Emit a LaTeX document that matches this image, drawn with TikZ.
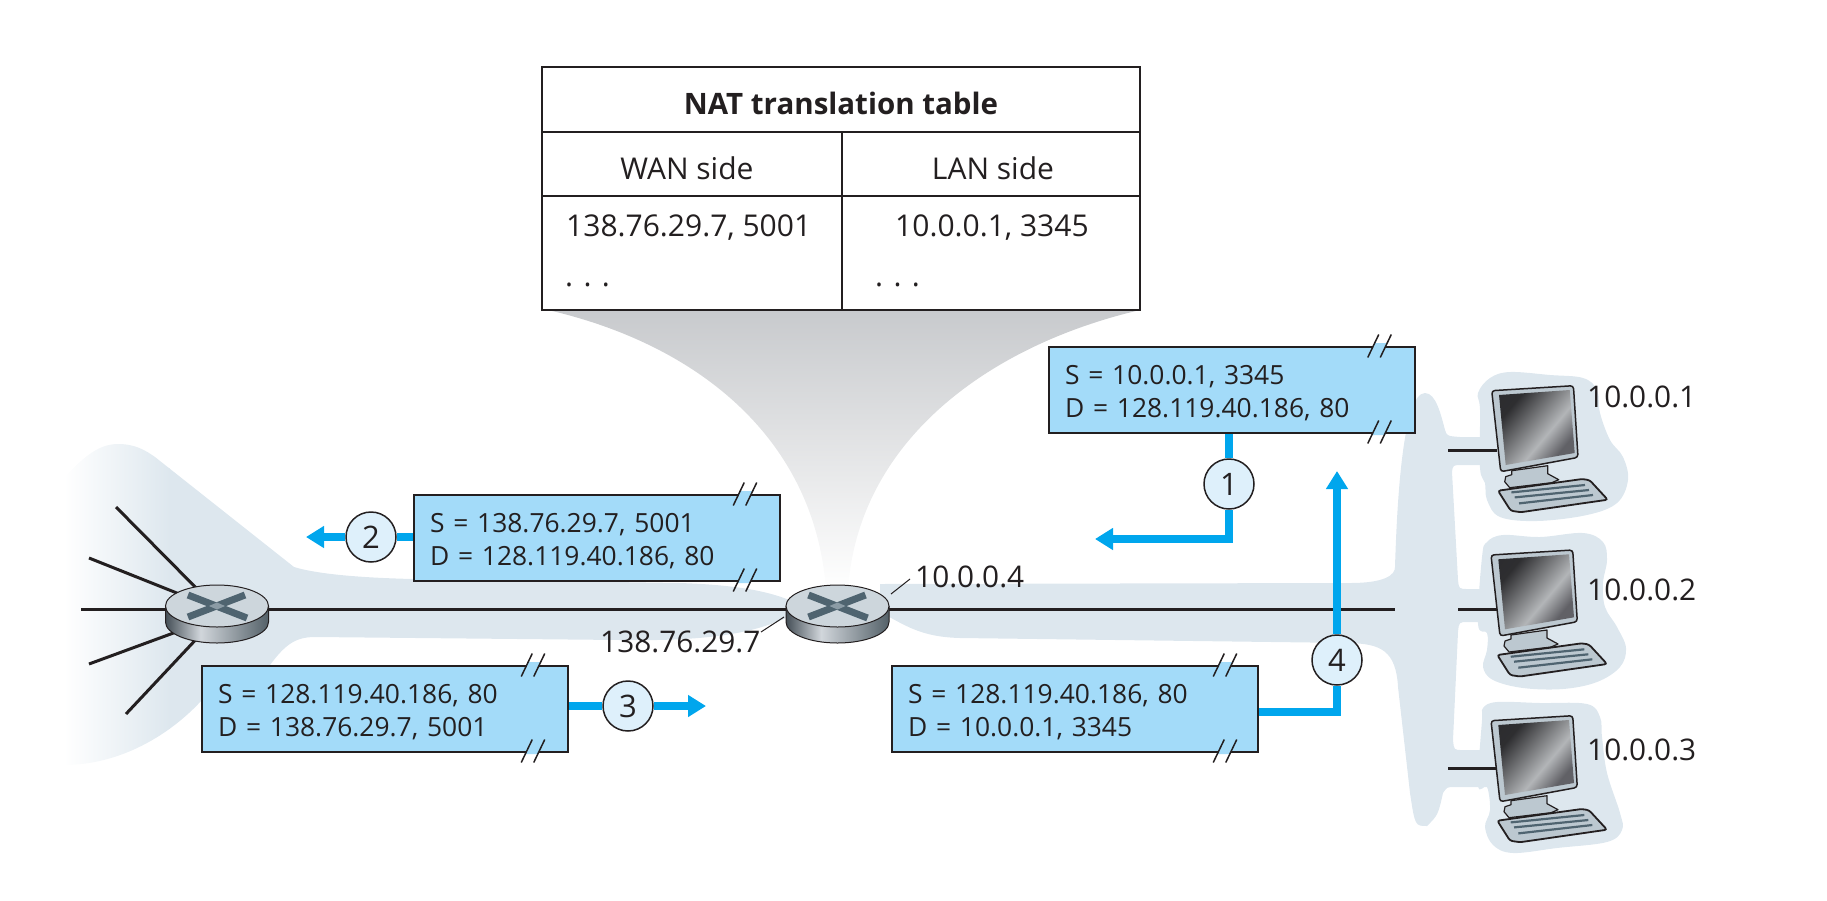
\documentclass[tikz,border=0pt]{standalone}
\usepackage{fontspec}
\setmainfont{Open Sans}
\usetikzlibrary{arrows.meta,positioning}
\definecolor{inkblack}{HTML}{231F20}
\definecolor{flowblue}{HTML}{00A6ED}
\definecolor{boxblue}{HTML}{A3DBF9}
\definecolor{discblue}{HTML}{DEF0FB}
\definecolor{bandblue}{HTML}{DDE7EE}
\definecolor{funnelgray}{HTML}{C8CACD}
\definecolor{caseblue}{HTML}{BCC8D0}
\definecolor{keyslate}{HTML}{4F6470}
\pgfdeclarehorizontalshading{routerside}{100bp}{rgb(0bp)=(.27,.31,.34);rgb(25bp)=(.27,.31,.34);rgb(42bp)=(.82,.84,.86);rgb(75bp)=(.33,.38,.41);rgb(100bp)=(.33,.38,.41)}
\pgfdeclarehorizontalshading{screenshade}{100bp}{rgb(0bp)=(.16,.16,.17);rgb(28bp)=(.18,.18,.19);rgb(58bp)=(.70,.71,.72);rgb(72bp)=(.38,.38,.40);rgb(100bp)=(.38,.38,.40)}
\newcommand{\Sbreak}[2]{\begin{scope}[shift={(#1,#2)}]
\fill[boxblue] (-7.5,3) -- (5,3) -- (7.5,-3) -- (-5,-3) -- cycle;
\draw[inkblack,line width=1.5pt] (-11.75,11.5) -- (-0.75,-11.5) (0.75,11.5) -- (11.75,-11.5);
\end{scope}}
\newcommand{\Spush}{\rule{0pt}{26pt}}
\tikzset{
  wire/.style={-,draw=inkblack,line width=3pt},
  leader/.style={-,draw=inkblack,line width=1pt},
  flow/.style={draw=flowblue,line width=7.5pt},
  flowtip/.style={-{Triangle[length=18pt,width=21pt]},draw=flowblue,line width=7.5pt},
  cell/.style={inner sep=0pt,text=inkblack,font=\fontsize{30}{34}\selectfont},
  packet/.style={rectangle,draw=inkblack,fill=boxblue,line width=2pt,anchor=north west,align=left,inner xsep=16pt,inner ysep=0pt,
    minimum height=86pt,text width=334pt,text=inkblack,font=\fontsize{26.4}{33}\selectfont},
  step disc/.style={circle,draw=inkblack,fill=discblue,line width=1.5pt,minimum size=50pt,inner sep=0pt,text=inkblack,font=\fontsize{31}{32}\selectfont},
  addr/.style={inner sep=0pt,text=inkblack,font=\fontsize{29.8}{34}\selectfont},
  router/.pic={
    \shade[shading=routerside] (-51.5,-3) -- (-51.5,13) .. controls (-51.5,24.6) and (-28.4,34) .. (0,34) .. controls (28.4,34) and (51.5,24.6) .. (51.5,13) -- (51.5,-3) -- cycle;
    \draw[inkblack,line width=1pt] (-51.5,-3) -- (-51.5,13) .. controls (-51.5,24.6) and (-28.4,34) .. (0,34) .. controls (28.4,34) and (51.5,24.6) .. (51.5,13) -- (51.5,-3);
    \draw[inkblack,line width=1pt,fill=caseblue!75!white] (0,-3) ellipse [x radius=51.5pt,y radius=21pt];
    \draw[keyslate,line width=7pt] (-29,-14) -- (30,9) (-29,8) -- (28,-14);
    \fill[caseblue!55!keyslate] (-8,-3) -- (0,-6.5) -- (8,-3) -- (0,0.5) -- cycle;
  },
  computer/.pic={
    \draw[inkblack,line width=1.2pt,fill=caseblue,line join=round] (20,80) -- (56,75) -- (56,83) -- (67,89) -- (60,92) -- (18,97) -- (13,91) -- (14,86) -- (20,84) -- cycle;
    \draw[inkblack,line width=1.8pt,fill=caseblue,rounded corners=2.5pt] (6.3,100) -- (90.7,88.3) -- (98,89.5) -- (116,109) -- (29,121.5) -- (19,120) -- cycle;
    \draw[keyslate,line width=2.2pt] (19.7,101.7) -- (93.3,94.3) (23,106.7) -- (97.3,99.3) (27.3,112.7) -- (101.3,104.3);
    \draw[inkblack,line width=1.5pt,fill=caseblue,rounded corners=3pt] (0,0) -- (81.7,-5) -- (86.3,66.7) -- (9,81) -- cycle;
    \shade[shading=screenshade,shading angle=-40] (7.3,4.3) -- (78,-0.7) -- (83,62.3) -- (14,74.3) -- cycle;
  },
}
\begin{document}
\begin{tikzpicture}[x=1pt,y=-1pt]
\useasboundingbox (0,0) rectangle (1827,900);
% funnel under the table
\shade[top color=funnelgray,bottom color=white] (548,310) .. controls (700,345) and (815,440) .. (826,590) -- (848,590) .. controls (858,440) and (990,345) .. (1140,310) -- cycle;
% wan side band, fades out to the left
\begin{scope}
\clip (64,478) .. controls (85,455) and (100,444) .. (118,444) .. controls (135,444) and (145,450) .. (155,457) -- (294,567) .. controls (320,575) and (370,578) .. (413,579) -- (680,583) .. controls (740,585) and (775,592) .. (800,605) -- (800,612) .. controls (770,625) and (740,642) .. (620,640) -- (315,637) .. controls (295,637) and (285,645) .. (270,665) -- (202,700) .. controls (170,735) and (120,765) .. (64,765) -- cycle;
\shade[left color=white,right color=bandblue] (64,440) rectangle (170,770);
\fill[bandblue] (169,440) rectangle (810,770);
\end{scope}
% lan side band with spine and arms
\fill[bandblue] (880,584) -- (1350,583) .. controls (1385,583) and (1395,575) .. (1395,567) .. controls (1397,500) and (1403,393) .. (1425,393) .. controls (1436,393) and (1441,415) .. (1445,430) .. controls (1447,436) .. (1460,437) -- (1490,437) -- (1490,465) -- (1462,465) .. controls (1453,465) .. (1452,472) -- (1458,580) .. controls (1459,589) .. (1468,589) -- (1490,589) -- (1490,622) -- (1468,622) .. controls (1459,622) .. (1458,632) -- (1453,740) .. controls (1454,750) .. (1462,750) -- (1490,750) -- (1490,787) -- (1455,787) .. controls (1447,787) .. (1443,793) .. controls (1438,815) .. (1427,826) .. controls (1415,826) .. (1410,793) -- (1398,687) .. controls (1396,650) and (1380,644) .. (1350,643) -- (960,638) .. controls (920,637) and (905,625) .. (880,612) -- cycle;
\fill[bandblue] plot[smooth cycle,tension=.6] coordinates {(1480,410) (1478,393) (1490,378) (1510,372) (1550,375) (1583,378) (1597,390) (1600,413) (1610,440) (1623,457) (1628,480) (1617,503) (1587,515) (1537,521) (1500,517) (1487,500) (1485,483) (1480,468)};
\fill[bandblue] plot[smooth cycle,tension=.6] coordinates {(1482,557) (1487,542) (1503,535) (1540,537) (1583,533) (1603,542) (1607,560) (1603,583) (1605,607) (1617,627) (1626,648) (1620,667) (1597,682) (1563,689) (1523,688) (1493,680) (1483,667) (1487,650) (1487,633) (1478,624)};
\fill[bandblue] plot[smooth cycle,tension=.6] coordinates {(1482,720) (1483,708) (1497,702) (1540,703) (1587,704) (1600,717) (1602,737) (1607,773) (1620,813) (1622,830) (1607,842) (1557,848) (1513,853) (1493,845) (1485,827) (1490,810) (1487,787) (1478,785)};
%
\coordinate (r1) at (217,609);
\coordinate (r1b) at (217,617);
\coordinate (r2) at (837.5,609);
\coordinate (s1) at (116,507);
\coordinate (s2) at (89,558);
\coordinate (s3) at (81,609);
\coordinate (s4) at (89,664);
\coordinate (s5) at (126,714);
\coordinate (spine) at (1395,609);
\coordinate (c1) at (1491.7,390.7);
\coordinate (c2) at (1491,555);
\coordinate (c3) at (1491,720.7);
\coordinate (c1a) at (1448,450);
\coordinate (c1b) at (1497,450);
\coordinate (c2a) at (1458,609);
\coordinate (c2b) at (1497,609);
\coordinate (c3a) at (1448,768);
\coordinate (c3b) at (1497,768);
%
\path[wire](r1) edge (s1);
\path[wire](r1) edge (s2);
\path[wire](r1) edge (s3);
\path[wire](r1b) edge (s4);
\path[wire](r1b) edge (s5);
\path[wire](r1) edge (r2);
\path[wire](r2) edge (spine);
\path[wire](c1a) edge (c1b);
\path[wire](c2a) edge (c2b);
\path[wire](c3a) edge (c3b);
\pic at (r1) {router};
\pic at (r2) {router};
\pic at (c1) {computer};
\pic at (c2) {computer};
\pic at (c3) {computer};
% table
\draw[inkblack,line width=2pt,fill=white] (542,67) rectangle (1140,310);
\draw[inkblack,line width=2pt] (542,132) -- (1140,132) (542,196) -- (1140,196) (842,132) -- (842,310);
\node (thead) [cell,font=\fontsize{29.5}{34}\selectfont\bfseries] at (841,103) {NAT translation table};
\node (twan) [cell] at (687,168) {WAN side};
\node (tlan) [cell] at (993,168) {LAN side};
\node (twan1) [cell,anchor=west] at (566,228) {138.76.29.7, 5001};
\node (tlan1) [cell,anchor=west] at (895,228) {10.0.0.1, 3345};
\node (twan2) [cell,anchor=west] at (565,285) {. . .};
\node (tlan2) [cell,anchor=west] at (875,285) {. . .};
% packets
\node (pkt1) [packet] at (1048,346) {\Spush S = 10.0.0.1, 3345\\D = 128.119.40.186, 80};
\node (pkt2) [packet] at (413,494) {\Spush S = 138.76.29.7, 5001\\D = 128.119.40.186, 80};
\node (pkt3) [packet] at (201,665) {\Spush S = 128.119.40.186, 80\\D = 138.76.29.7, 5001};
\node (pkt4) [packet] at (891,665) {\Spush S = 128.119.40.186, 80\\D = 10.0.0.1, 3345};
\Sbreak{1379.5}{346}
\Sbreak{1379.5}{432}
\Sbreak{745}{494}
\Sbreak{745}{580}
\Sbreak{533}{665}
\Sbreak{533}{751}
\Sbreak{1225}{665}
\Sbreak{1225}{751}
% steps
\node (cir1) [step disc] at (1229,484) {1};
\node (cir2) [step disc] at (371,537) {2};
\node (cir3) [step disc] at (628,706) {3};
\node (cir4) [step disc] at (1337,660) {4};
\coordinate (tip1) at (1095,539);
\coordinate (tip2) at (306,537);
\coordinate (tip3) at (706,706);
\coordinate (tip4) at (1337,471);
\draw[flow] (cir1 |- pkt1.south) -- (cir1.north);
\draw[flowtip] (cir1.south) |- (tip1);
\draw[flow] (cir2 -| pkt2.west) -- (cir2.east);
\draw[flowtip] (cir2.west) -- (tip2);
\draw[flow] (cir3 -| pkt3.east) -- (cir3.west);
\draw[flowtip] (cir3.east) -- (tip3);
\draw[flow] ([yshift=-3pt]pkt4.east) -| (cir4.south);
\draw[flowtip] (cir4.north) -- (tip4);
% addresses
\node (wanip) [addr,anchor=west] at (600,642) {138.76.29.7};
\node (lanip) [addr,anchor=west] at (915,577) {10.0.0.4};
\node (ip1) [addr,anchor=west] at (1587,397) {10.0.0.1};
\node (ip2) [addr,anchor=west] at (1587,590) {10.0.0.2};
\node (ip3) [addr,anchor=west] at (1587,750) {10.0.0.3};
\coordinate (w1) at (761,632);
\coordinate (w2) at (784,617);
\coordinate (l1) at (891,594);
\coordinate (l2) at (910,579);
\path[leader](w1) edge (w2);
\path[leader](l1) edge (l2);
\end{tikzpicture}
\end{document}
